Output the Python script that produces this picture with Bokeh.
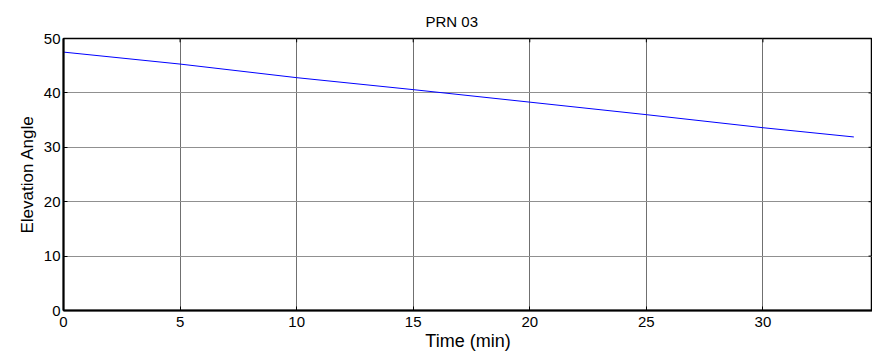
from bokeh.plotting import figure
from bokeh.models import FixedTicker, Range1d
from bokeh.embed import file_html
from bokeh.resources import INLINE

time_min = [0, 5, 10, 15, 20, 25, 30, 33.9]
elevation = [47.5, 45.3, 42.8, 40.6, 38.3, 36.0, 33.6, 31.9]
x_ticks = [0, 5, 10, 15, 20, 25, 30]
y_ticks = [0, 10, 20, 30, 40, 50]
x_lim = (0, 34.7)
y_lim = (0, 50)

FONT = "Liberation Sans"

p = figure(width=872, height=354, output_backend="svg", toolbar_location=None,
           x_range=Range1d(*x_lim), y_range=Range1d(*y_lim),
           min_border_left=63, min_border_right=0, min_border_top=38, min_border_bottom=44,
           x_axis_label="Time (min)", y_axis_label="Elevation Angle",
           title="PRN 03")
p.title.align = "left"
p.title.offset = 362
p.title.standoff = 18
p.title.text_font = FONT
p.title.text_font_style = "normal"
p.title.text_font_size = "15px"
p.title.text_color = "#000000"

p.line(time_min, elevation, line_color="#0000ff", line_width=1)

for ax in (p.xaxis[0], p.yaxis[0]):
    ax.major_tick_in = 4
    ax.major_tick_out = 0
    ax.minor_tick_in = 0
    ax.minor_tick_out = 0
    ax.axis_line_color = "#000000"
    ax.axis_line_width = 2
    ax.major_tick_line_color = "#000000"
    ax.major_label_text_font = FONT
    ax.major_label_text_font_size = "15px"
    ax.major_label_text_color = "#000000"
    ax.axis_label_text_font = FONT
    ax.axis_label_text_font_style = "normal"
    ax.axis_label_text_color = "#000000"

p.xaxis[0].axis_label_text_font_size = "18px"
p.yaxis[0].axis_label_text_font_size = "17px"
p.xaxis[0].major_label_standoff = 6
p.xaxis[0].axis_label_standoff = 1
p.yaxis[0].major_label_standoff = 3
p.yaxis[0].axis_label_standoff = 4

p.xaxis[0].ticker = FixedTicker(ticks=x_ticks)
p.yaxis[0].ticker = FixedTicker(ticks=y_ticks)

# inward ticks on the top and right edges of the box
p.segment(x0=x_ticks, y0=[y_lim[1]] * len(x_ticks), x1=x_ticks,
          y1=[y_lim[1] - 0.7] * len(x_ticks), line_color="#000000", line_width=1)
p.segment(x0=[x_lim[1]] * len(y_ticks), y0=y_ticks, x1=[x_lim[1] - 0.17] * len(y_ticks),
          y1=y_ticks, line_color="#000000", line_width=1)

p.xgrid.ticker = FixedTicker(ticks=x_ticks)
p.ygrid.ticker = FixedTicker(ticks=y_ticks)
p.xgrid.grid_line_color = "#707070"
p.ygrid.grid_line_color = "#909090"
p.xgrid.grid_line_width = 1
p.ygrid.grid_line_width = 1
p.outline_line_color = "#000000"
p.outline_line_width = 1.5
p.background_fill_color = "#ffffff"
p.border_fill_color = "#ffffff"

open("out.html", "w").write(file_html(p, INLINE))
